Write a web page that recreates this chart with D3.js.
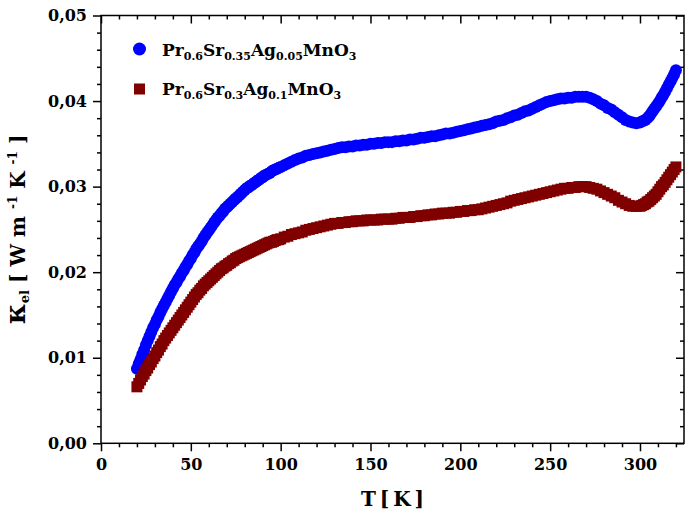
<!DOCTYPE html>
<html><head><meta charset="utf-8">
<script src="https://cdn.jsdelivr.net/npm/d3@7"></script>
<style>
body{margin:0;background:#fff}
svg{display:block}
text{font-family:"DejaVu Serif",serif;font-weight:bold;fill:#000}
</style>
</head><body>
<svg id="chart" width="685" height="517"></svg>
<script>
// ---------- data ----------
const temps = [
  20,21,22,23,24,25,26,27,28,29,
  30,31,32,33,34,35,36,37,38,39,
  40,41,42,43,44,45,46,47,48,49,
  50,51,52,53,54,55,56,57,58,59,
  60,61,62,63,64,65,66,67,68,69,
  70,71,72,73,74,75,76,77,78,79,
  80,81,82,83,84,85,86,87,88,89,
  90,91,92,93,94,95,96,97,98,99,
  100,102,104,106,108,110,112,114,116,118,
  120,122,124,126,128,130,132,134,136,138,
  140,142,144,146,148,150,152,154,156,158,
  160,162,164,166,168,170,172,174,176,178,
  180,182,184,186,188,190,192,194,196,198,
  200,202,204,206,208,210,212,214,216,218,
  220,222,224,226,228,230,232,234,236,238,
  240,242,244,246,248,250,252,254,256,258,
  260,262,264,266,268,270,272,274,276,278,
  280,282,284,286,288,290,292,294,296,298,
  300,301,302,303,304,305,306,307,308,309,
  310,311,312,313,314,315,316,317,318,319,
  320
];
const kappaAg005 = [
  0.0087,0.0093,0.0098,0.0104,0.0109,0.0115,0.0120,0.0125,0.0130,0.0135,
  0.0139,0.0144,0.0148,0.0153,0.0157,0.0161,0.0165,0.0169,0.0173,0.0177,
  0.0181,0.0185,0.0188,0.0192,0.0195,0.0199,0.0202,0.0206,0.0209,0.0213,
  0.0216,0.0220,0.0223,0.0227,0.0230,0.0233,0.0236,0.0240,0.0243,0.0246,
  0.0249,0.0252,0.0255,0.0258,0.0261,0.0264,0.0266,0.0269,0.0271,0.0274,
  0.0276,0.0278,0.0280,0.0282,0.0284,0.0286,0.0288,0.0290,0.0292,0.0294,
  0.0296,0.0298,0.0299,0.0301,0.0302,0.0304,0.0305,0.0307,0.0308,0.0310,
  0.0311,0.0313,0.0314,0.0315,0.0316,0.0318,0.0319,0.0320,0.0321,0.0322,
  0.0323,0.0325,0.0327,0.0329,0.0331,0.0333,0.0334,0.0336,0.0337,0.0338,
  0.0339,0.0340,0.0341,0.0342,0.0343,0.0344,0.0345,0.0346,0.0346,0.0347,
  0.0347,0.0348,0.0348,0.0349,0.0349,0.0350,0.0350,0.0351,0.0351,0.0352,
  0.0352,0.0352,0.0353,0.0353,0.0354,0.0354,0.0355,0.0355,0.0356,0.0357,
  0.0357,0.0358,0.0359,0.0359,0.0360,0.0361,0.0362,0.0362,0.0363,0.0364,
  0.0365,0.0366,0.0367,0.0368,0.0369,0.0370,0.0371,0.0372,0.0373,0.0374,
  0.0376,0.0377,0.0378,0.0380,0.0381,0.0383,0.0384,0.0386,0.0388,0.0389,
  0.0391,0.0393,0.0395,0.0397,0.0399,0.0400,0.0401,0.0402,0.0403,0.0403,
  0.0404,0.0404,0.0405,0.0405,0.0405,0.0405,0.0404,0.0402,0.0400,0.0397,
  0.0395,0.0392,0.0390,0.0387,0.0384,0.0381,0.0378,0.0376,0.0375,0.0374,
  0.0375,0.0376,0.0377,0.0378,0.0380,0.0382,0.0385,0.0388,0.0391,0.0394,
  0.0397,0.0400,0.0404,0.0407,0.0411,0.0415,0.0419,0.0423,0.0427,0.0431,
  0.0436
];
const kappaAg01 = [
  0.0066,0.0070,0.0074,0.0078,0.0081,0.0085,0.0088,0.0092,0.0095,0.0099,
  0.0102,0.0106,0.0109,0.0113,0.0116,0.0120,0.0123,0.0126,0.0129,0.0132,
  0.0135,0.0138,0.0141,0.0144,0.0147,0.0150,0.0153,0.0156,0.0159,0.0162,
  0.0165,0.0168,0.0171,0.0174,0.0176,0.0179,0.0181,0.0184,0.0186,0.0188,
  0.0190,0.0192,0.0194,0.0196,0.0198,0.0200,0.0202,0.0204,0.0205,0.0207,
  0.0208,0.0210,0.0211,0.0213,0.0214,0.0216,0.0217,0.0218,0.0219,0.0220,
  0.0221,0.0222,0.0223,0.0224,0.0225,0.0226,0.0227,0.0228,0.0229,0.0230,
  0.0231,0.0232,0.0233,0.0234,0.0235,0.0235,0.0236,0.0237,0.0238,0.0238,
  0.0239,0.0241,0.0242,0.0244,0.0245,0.0246,0.0247,0.0249,0.0250,0.0251,
  0.0252,0.0253,0.0254,0.0255,0.0256,0.0257,0.0257,0.0258,0.0258,0.0259,
  0.0259,0.0260,0.0260,0.0260,0.0261,0.0261,0.0261,0.0261,0.0262,0.0262,
  0.0262,0.0262,0.0263,0.0263,0.0264,0.0264,0.0264,0.0265,0.0265,0.0266,
  0.0266,0.0267,0.0267,0.0268,0.0268,0.0269,0.0269,0.0269,0.0270,0.0270,
  0.0271,0.0271,0.0272,0.0272,0.0273,0.0273,0.0274,0.0275,0.0276,0.0277,
  0.0278,0.0279,0.0280,0.0281,0.0283,0.0284,0.0285,0.0286,0.0287,0.0288,
  0.0289,0.0290,0.0291,0.0292,0.0293,0.0294,0.0295,0.0296,0.0297,0.0298,
  0.0298,0.0299,0.0299,0.0300,0.0300,0.0300,0.0299,0.0298,0.0297,0.0295,
  0.0293,0.0291,0.0289,0.0287,0.0284,0.0282,0.0280,0.0278,0.0277,0.0277,
  0.0277,0.0278,0.0279,0.0280,0.0282,0.0283,0.0285,0.0287,0.0289,0.0291,
  0.0294,0.0297,0.0300,0.0302,0.0305,0.0308,0.0311,0.0314,0.0317,0.0320,
  0.0323
];
const xTicks = [0, 50, 100, 150, 200, 250, 300];
const yTicks = [0, 0.01, 0.02, 0.03, 0.04, 0.05];
const legend1 = [["Pr",0],["0.6",1],["Sr",0],["0.35",1],["Ag",0],["0.05",1],["MnO",0],["3",1]];
const legend2 = [["Pr",0],["0.6",1],["Sr",0],["0.3",1],["Ag",0],["0.1",1],["MnO",0],["3",1]];
const xTitle = "T [ K ]";
const colBlue = "#0000ff", colRed = "#800000";

// ---------- chart ----------
const svg = d3.select("#chart");
svg.append("rect").attr("width",685).attr("height",517).attr("fill","#fff");

const x = d3.scaleLinear().domain([0, 324.5]).range([101, 684]);
const y = d3.scaleLinear().domain([0, 0.05]).range([443.3, 15.5]);
const X0 = x.range()[0], X1 = x.range()[1], Y0 = y.range()[0], Y1 = y.range()[1];

const loc = d3.formatLocale({decimal:",", thousands:".", grouping:[3], currency:["",""]});
const yFmt = loc.format(".2f");

const xMinor = d3.range(0, 325, 10).filter(v => !xTicks.includes(v));
const yMinor = d3.range(0, 0.0501, 0.002).filter(v => !yTicks.some(t => Math.abs(t - v) < 1e-9));

function styleAxis(g){
  g.select(".domain").remove();
  g.selectAll(".tick line").attr("stroke","#000").attr("stroke-width",1.5);
}
// bottom
svg.append("g").attr("transform",`translate(0,${Y0})`)
  .call(d3.axisBottom(x).tickValues(xTicks).tickSize(8).tickPadding(7).tickFormat(d3.format("d")))
  .call(styleAxis)
  .call(g => g.selectAll("text").attr("font-size",16).attr("font-family","DejaVu Serif").attr("font-weight","bold"));
svg.append("g").attr("transform",`translate(0,${Y0})`)
  .call(d3.axisBottom(x).tickValues(xMinor).tickSize(4).tickFormat(""))
  .call(styleAxis);
// top (inward)
svg.append("g").attr("transform",`translate(0,${Y1})`)
  .call(d3.axisTop(x).tickValues(xTicks).tickSize(-8).tickFormat(""))
  .call(styleAxis);
svg.append("g").attr("transform",`translate(0,${Y1})`)
  .call(d3.axisTop(x).tickValues(xMinor).tickSize(-4).tickFormat(""))
  .call(styleAxis);
// left
svg.append("g").attr("transform",`translate(${X0},0)`)
  .call(d3.axisLeft(y).tickValues(yTicks).tickSize(8).tickPadding(6).tickFormat(yFmt))
  .call(styleAxis)
  .call(g => g.selectAll("text").attr("font-size",16).attr("font-family","DejaVu Serif").attr("font-weight","bold"));
svg.append("g").attr("transform",`translate(${X0},0)`)
  .call(d3.axisLeft(y).tickValues(yMinor).tickSize(4).tickFormat(""))
  .call(styleAxis);
// right (inward)
svg.append("g").attr("transform",`translate(${X1},0)`)
  .call(d3.axisRight(y).tickValues(yTicks).tickSize(-8).tickFormat(""))
  .call(styleAxis);
svg.append("g").attr("transform",`translate(${X1},0)`)
  .call(d3.axisRight(y).tickValues(yMinor).tickSize(-4).tickFormat(""))
  .call(styleAxis);

// frame
svg.append("rect").attr("x",X0).attr("y",Y1).attr("width",X1-X0).attr("height",Y0-Y1)
  .attr("fill","none").attr("stroke","#000").attr("stroke-width",1.5);

// data
const dBlue = temps.map((t,i)=>({t, v:kappaAg005[i]}));
const dRed = temps.map((t,i)=>({t, v:kappaAg01[i]}));
svg.append("g").selectAll("circle").data(dBlue).join("circle")
  .attr("cx",d=>x(d.t)).attr("cy",d=>y(d.v)).attr("r",6).attr("fill",colBlue);
svg.append("g").selectAll("rect").data(dRed).join("rect")
  .attr("x",d=>x(d.t)-5.5).attr("y",d=>y(d.v)-5.5).attr("width",11).attr("height",11).attr("fill",colRed);

// legend
function legendText(parts, tx, ty){
  const t = svg.append("text").attr("x",tx).attr("y",ty).attr("font-size",17);
  let sub = false;
  parts.forEach(([s,isSub])=>{
    const sp = t.append("tspan").text(s);
    if(isSub && !sub){ sp.attr("dy",4).attr("font-size",11); sub=true; }
    else if(isSub){ sp.attr("font-size",11); }
    else if(!isSub && sub){ sp.attr("dy",-4); sub=false; }
  });
}
svg.append("circle").attr("cx",139.5).attr("cy",49).attr("r",6.5).attr("fill",colBlue);
legendText(legend1, 162, 56);
svg.append("rect").attr("x",134).attr("y",83.5).attr("width",11).attr("height",11).attr("fill",colRed);
legendText(legend2, 162, 95);

// axis titles
svg.append("text").attr("x",(X0+X1)/2).attr("y",506).attr("text-anchor","middle")
  .attr("font-size",20).attr("word-spacing",-3).text(xTitle);

const yl = svg.append("text").attr("transform",`translate(25,${(Y0+Y1)/2}) rotate(-90)`)
  .attr("text-anchor","middle").attr("font-size",20);
yl.append("tspan").attr("font-size",28).text("κ");
yl.append("tspan").attr("font-size",13).attr("dy",4).text("el");
yl.append("tspan").attr("dy",-4).text(" [ W m ");
yl.append("tspan").attr("font-size",12).attr("dy",-8).text("-1");
yl.append("tspan").attr("dy",8).text(" K ");
yl.append("tspan").attr("font-size",12).attr("dy",-8).text("-1");
yl.append("tspan").attr("dy",8).text(" ]");
</script>
</body></html>
